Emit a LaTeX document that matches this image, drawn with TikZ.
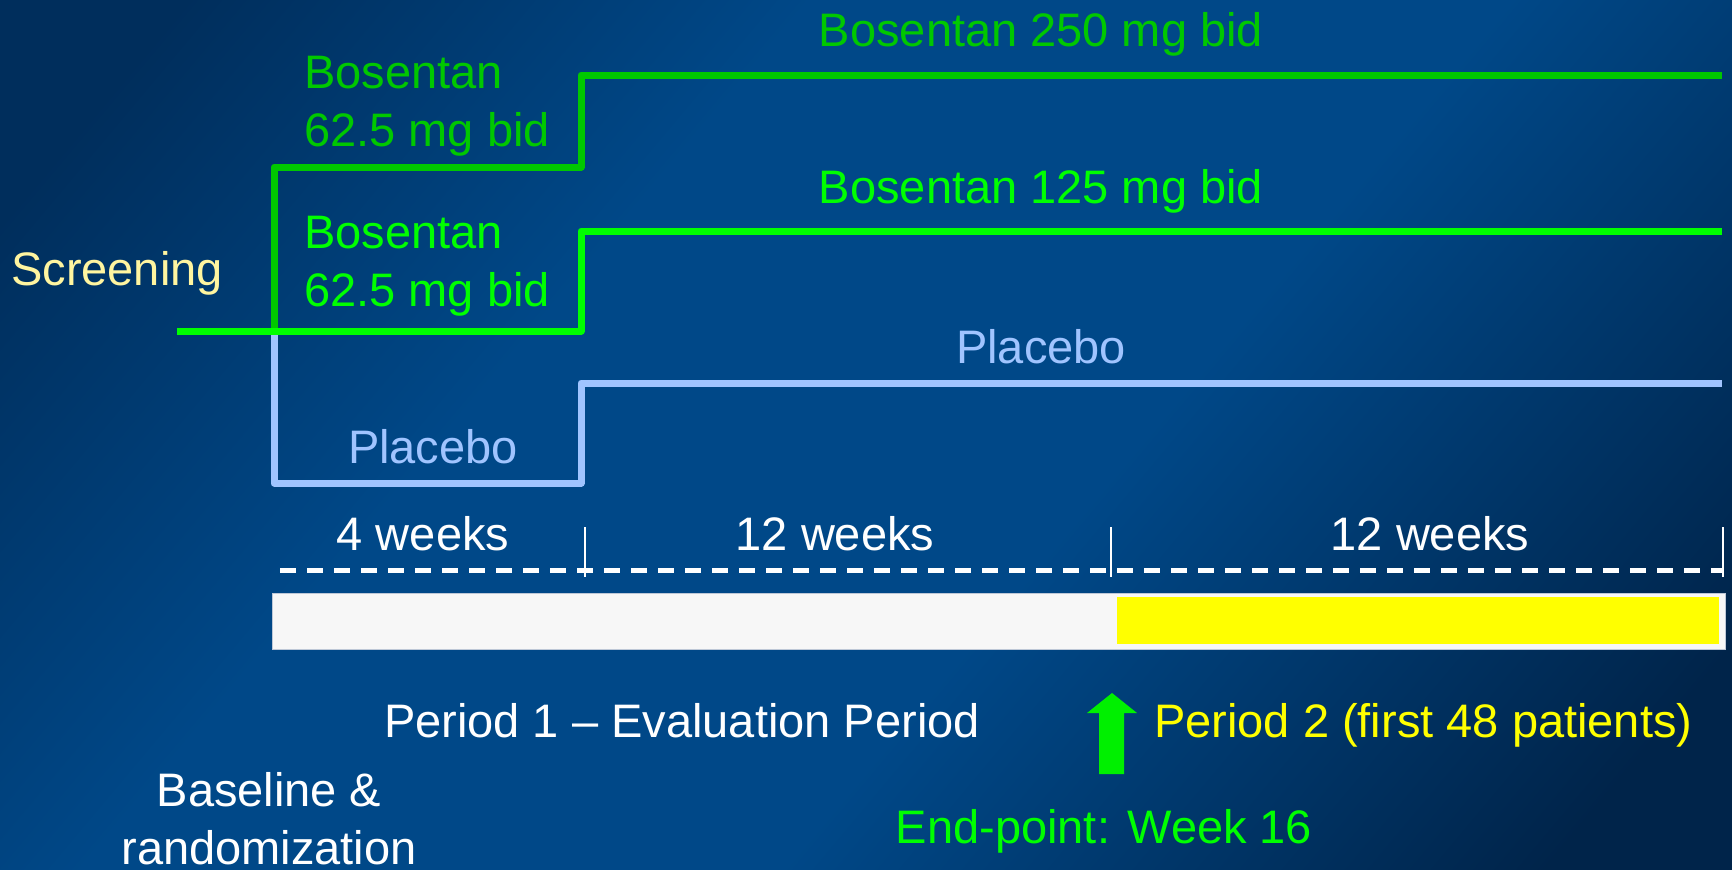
\documentclass[tikz,border=0pt]{standalone}
\usepackage{fontspec}
\setmainfont{Liberation Sans}
\definecolor{bgA}{RGB}{0,46,92}
\definecolor{bgB}{RGB}{0,72,136}
\definecolor{bgC}{RGB}{0,36,74}
\definecolor{dgreen}{RGB}{0,200,0}
\definecolor{bgreen}{RGB}{0,255,0}
\definecolor{plblue}{RGB}{160,196,255}
\definecolor{scryellow}{RGB}{255,245,160}
\definecolor{pyellow}{RGB}{255,255,0}
\definecolor{barwhite}{RGB}{247,247,247}
\definecolor{arrgreen}{RGB}{0,240,0}
\pgfdeclareverticalshading{bgsh}{100bp}{color(0bp)=(bgC); color(20bp)=(bgC); color(42bp)=(bgB); color(62bp)=(bgB); color(80bp)=(bgA); color(100bp)=(bgA)}
\begin{document}
\begin{tikzpicture}[x=1pt,y=-1pt,
  lbl/.style={inner sep=0pt, font=\fontsize{47}{58}\selectfont},
  arm/.style={line width=7pt, line join=round},
  tick/.style={draw=white, line width=2.5pt}]
\clip (0,0) rectangle (1732,870);
\shade[shading=bgsh, shading angle=50] (0,0) rectangle (1732,870);

% coordinates of the arms
\coordinate (s0) at (177,331);
\coordinate (r) at (274,331);
\coordinate (a1) at (274,167);
\coordinate (a2) at (581,167);
\coordinate (a3) at (581,75);
\coordinate (a4) at (1722,75);
\coordinate (b2) at (581,331);
\coordinate (b3) at (581,231);
\coordinate (b4) at (1722,231);
\coordinate (p1) at (274,483);
\coordinate (p2) at (581,483);
\coordinate (p3) at (581,383);
\coordinate (p4) at (1722,383);

\draw[arm, plblue] (r) -- (p1) -- (p2) -- (p3) -- (p4);
\draw[arm, dgreen] (r) -- (a1) -- (a2) -- (a3) -- (a4);
\draw[arm, bgreen] (s0) -- (b2) -- (b3) -- (b4);

% labels of arms
\node[lbl, text=dgreen, anchor=base] (t250) at (1041,46) {Bosentan 250 mg bid};
\node[lbl, text=dgreen, anchor=base west, align=left] (t62a) at (304,146) {Bosentan\\62.5 mg bid};
\node[lbl, text=bgreen, anchor=base] (t125) at (1041,203) {Bosentan 125 mg bid};
\node[lbl, text=bgreen, anchor=base west, align=left] (t62b) at (304,306) {Bosentan\\62.5 mg bid};
\node[lbl, text=scryellow, anchor=base west] (scr) at (11,285) {Screening};
\node[lbl, text=plblue, anchor=base] (pl2) at (1041,363) {Placebo};
\node[lbl, text=plblue, anchor=base] (pl1) at (433,463) {Placebo};

% time scale
\node[lbl, text=white, anchor=base] (w4) at (423,550) {4 weeks};
\node[lbl, text=white, anchor=base] (w12a) at (835,550) {12 weeks};
\node[lbl, text=white, anchor=base] (w12b) at (1430,550) {12 weeks};
\coordinate (d0) at (280,570);
\coordinate (d1) at (1722,570);
\draw[white, line width=5pt, dash pattern=on 16pt off 11pt] (d0) -- (d1);
\coordinate (k1t) at (585,527); \coordinate (k1b) at (585,577);
\coordinate (k2t) at (1111,527); \coordinate (k2b) at (1111,577);
\coordinate (k3t) at (1723,527); \coordinate (k3b) at (1723,577);
\draw[tick] (k1t) -- (k1b);
\draw[tick] (k2t) -- (k2b);
\draw[tick] (k3t) -- (k3b);

% bar
\node[draw={rgb,255:red,190;green,200;blue,215}, line width=1pt, fill=barwhite, minimum width=1453pt, minimum height=56pt, inner sep=0pt, anchor=north west] (bar) at (272,593) {};
\node[fill=pyellow, minimum width=602pt, minimum height=47pt, inner sep=0pt, anchor=north west] (ybar) at (1117,597) {};

% bottom texts
\node[lbl, text=white, anchor=base] (per1) at (682,737) {Period 1 -- Evaluation Period};
\fill[arrgreen] (1099,774) -- (1099,713) -- (1087,713) -- (1112,693) -- (1137,713) -- (1124,713) -- (1124,774) -- cycle;
\node[lbl, text=pyellow, anchor=base west] (per2) at (1154,737) {Period 2 (first 48 patients)};
\node[lbl, text=white, anchor=base, align=center] (base) at (269,864) {Baseline \&\\randomization};
\node[lbl, text=bgreen, anchor=base] (endp) at (1104,843) {End-point: Week 16};
\end{tikzpicture}
\end{document}
